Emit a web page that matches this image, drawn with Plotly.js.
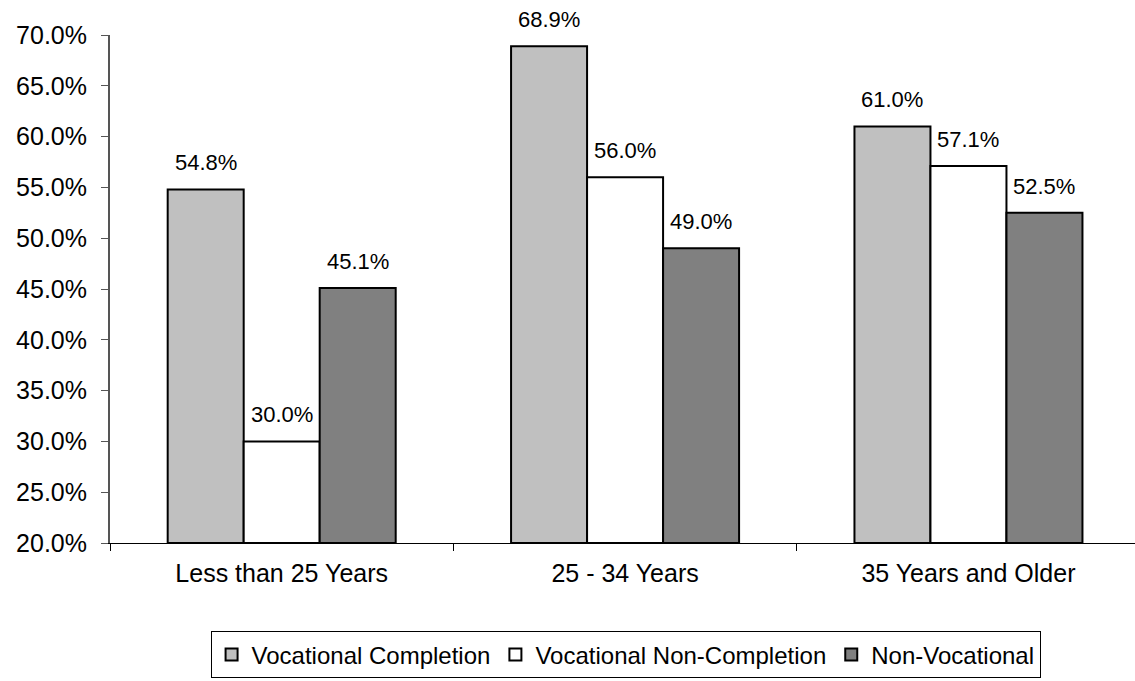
<!DOCTYPE html>
<html><head><meta charset="utf-8">
<script src="https://cdn.plot.ly/plotly-3.0.1.min.js"></script>
<style>html,body{margin:0;padding:0;background:#fff}</style>
</head><body><div id="chart" style="width:1135px;height:681px"></div>
<script>
const categories = ["Less than 25 Years", "25 - 34 Years", "35 Years and Older"];
const seriesNames = ["Vocational Completion", "Vocational Non-Completion", "Non-Vocational"];
const vocCompletion = [54.8, 68.9, 61.0];
const vocNonCompletion = [30.0, 56.0, 57.1];
const nonVocational = [45.1, 49.0, 52.5];
const yTicks = [20, 25, 30, 35, 40, 45, 50, 55, 60, 65, 70];
const colors = ["#C0C0C0", "#FFFFFF", "#808080"];
const allValues = [vocCompletion, vocNonCompletion, nonVocational];

const FONT = 'Liberation Sans, Arial, sans-serif';
const W = 1135, H = 681, ML = 110, MR = 0;
const xRange = [-0.5, 2.485];
const bargap = 0.336;
const catPx = (W - ML - MR) / (xRange[1] - xRange[0]);
const barPx = catPx * (1 - bargap) / allValues.length;

const traces = allValues.map((vals, i) => ({
  type: 'bar', x: categories, y: vals.map(v => v - 20), base: 20, name: seriesNames[i],
  marker: {color: colors[i], line: {color: '#000', width: 2}},
  hoverinfo: 'skip'
}));

const annotations = [];
allValues.forEach((vals, i) => {
  vals.forEach((v, j) => {
    annotations.push({
      x: categories[j], y: v, xref: 'x', yref: 'y',
      text: v.toFixed(1) + '%', showarrow: false,
      xanchor: 'center', yanchor: 'bottom',
      xshift: (i - (allValues.length - 1) / 2) * barPx, yshift: 12,
      font: {family: FONT, size: 22, color: '#000'}
    });
  });
});

const layout = {
  width: W, height: H,
  margin: {l: ML, r: MR, t: 35, b: 138},
  paper_bgcolor: '#fff', plot_bgcolor: '#fff',
  font: {family: FONT, size: 25, color: '#000'},
  barmode: 'group', bargap: bargap, bargroupgap: 0,
  showlegend: true,
  annotations: annotations,
  legend: {orientation: 'h', x: 0.503, xanchor: 'center', y: -0.174, yanchor: 'top',
    bordercolor: '#000', borderwidth: 1, font: {family: FONT, size: 24, color: '#000'}},
  xaxis: {type: 'category', range: xRange, showline: true, linecolor: '#000', linewidth: 1,
    ticks: 'outside', tickson: 'boundaries', ticklen: 7, tickcolor: '#000', showgrid: false,
    tickfont: {size: 25}, ticklabelstandoff: 8},
  yaxis: {range: [20, 70], tickvals: yTicks,
    ticktext: yTicks.map(v => v.toFixed(1) + '%'),
    showline: true, linecolor: '#555', linewidth: 2, ticks: 'outside', ticklen: 7, tickcolor: '#555',
    showgrid: false, zeroline: false, tickfont: {size: 25}, ticklabelstandoff: 9}
};
Plotly.newPlot('chart', traces, layout, {staticPlot: true});
</script></body></html>
